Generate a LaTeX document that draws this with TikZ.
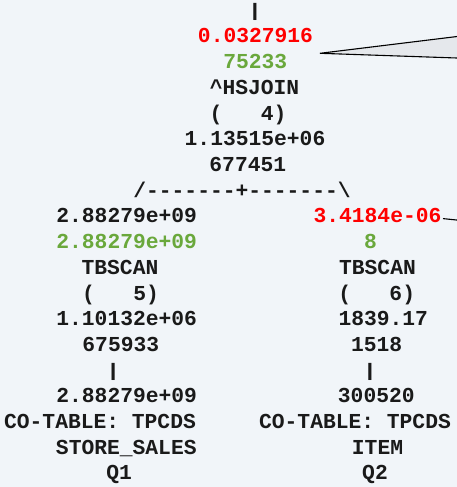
\documentclass[tikz,border=0pt]{standalone}
\usepackage{fontspec}
\newfontfamily\planfont{Liberation Mono}
\definecolor{bgcol}{HTML}{F1F5F9}
\definecolor{estred}{HTML}{FF0000}
\definecolor{actgreen}{HTML}{6AA83C}
\definecolor{inkcol}{HTML}{1A1A1A}
\definecolor{notefill}{HTML}{E5E8EC}
\begin{document}
\begin{tikzpicture}[x=1pt,y=-1pt,
  ln/.style={anchor=base, inner sep=0pt, outer sep=0pt,
    font=\planfont\bfseries\fontsize{21.3pt}{25pt}\selectfont, text=inkcol},
  est/.style={ln, text=estred},
  act/.style={ln, text=actgreen},
  pipe/.style={ln},
  notebox/.style={draw=black, line width=1.1pt, fill=notefill, line join=miter},
  notelink/.style={draw=black, line width=1.1pt}]
\useasboundingbox[fill=bgcol] (0,0) rectangle (457,487);

% hash join and its input stream
\node[pipe] (j0) at (255,16.5) {\scalebox{1.15}[0.85]{|}};
\node[est]  (j1) at (255.5,43.0) {0.0327916};
\node[act]  (j2) at (255.3,68.7) {75233};
\node[ln]   (j3) at (254.5,94.4) {\textasciicircum HSJOIN};
\node[ln]   (j4) at (248,120.1) {(\ \ \ 4)};
\node[ln]   (j5) at (255,145.8) {1.13515e+06};
\node[ln]   (j6) at (247.8,171.5) {677451};
\node[ln]   (br) at (242,197.2) {/-------+-------\textbackslash};

% left branch: scan of STORE_SALES
\node[ln]   (l8)  at (126.7,222.9) {2.88279e+09};
\node[act]  (l9)  at (126.7,248.6) {2.88279e+09};
\node[ln]   (l10) at (120,274.3) {TBSCAN};
\node[ln]   (l11) at (120.5,300.0) {(\ \ \ 5)};
\node[ln]   (l12) at (126.7,325.7) {1.10132e+06};
\node[ln]   (l13) at (120.8,351.4) {675933};
\node[pipe] (l14) at (113.3,376.3) {\scalebox{1.15}[0.85]{|}};
\node[ln]   (l15) at (126.7,402.8) {2.88279e+09};
\node[ln]   (l16) at (100,428.5) {CO-TABLE: TPCDS};
\node[ln]   (l17) at (126.3,454.2) {STORE\_SALES};
\node[ln]   (l18) at (119.2,479.9) {Q1};

% right branch: scan of ITEM
\node[est]  (r8)  at (377.5,222.9) {3.4184e-06};
\node[act]  (r9)  at (370.5,248.6) {8};
\node[ln]   (r10) at (377.5,274.3) {TBSCAN};
\node[ln]   (r11) at (376.7,300.0) {(\ \ \ 6)};
\node[ln]   (r12) at (383.3,325.7) {1839.17};
\node[ln]   (r13) at (376.7,351.4) {1518};
\node[pipe] (r14) at (370,376.3) {\scalebox{1.15}[0.85]{|}};
\node[ln]   (r15) at (376.3,402.8) {300520};
\node[ln]   (r16) at (355,428.5) {CO-TABLE: TPCDS};
\node[ln]   (r17) at (377.5,454.2) {ITEM};
\node[ln]   (r18) at (375,479.9) {Q2};

% note pointers running off to the right
\coordinate (tipA) at (320,53.3);
\coordinate (edgeAu) at (480,33.7);
\coordinate (edgeAl) at (480,58.8);
\coordinate (tipB) at (443,218.6);
\coordinate (edgeB) at (470,221.4);
\begin{scope}
  \clip (0,0) rectangle (457,487);
  \path[notebox] (edgeAu) -- (tipA) -- (edgeAl);
  \draw[notelink] (tipB) -- (edgeB);
\end{scope}
\end{tikzpicture}
\end{document}
